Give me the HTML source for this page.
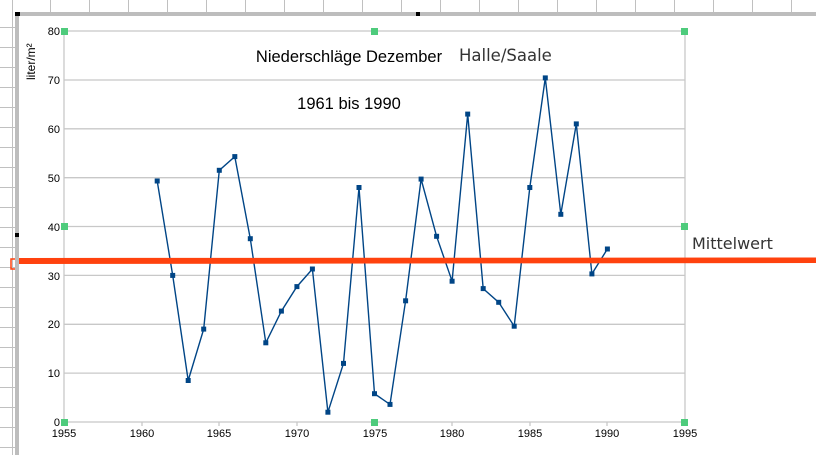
<!DOCTYPE html>
<html><head><meta charset="utf-8"><style>
html,body{margin:0;padding:0;background:#fff;width:816px;height:455px;overflow:hidden}
</style></head><body>
<svg width="816" height="455" xmlns="http://www.w3.org/2000/svg" font-family="Liberation Sans, sans-serif">
<rect width="816" height="455" fill="#fff"/>
<g stroke="#c0c0c0" stroke-width="1">
<line x1="12.5" y1="0" x2="12.5" y2="455"/>
<line x1="50.5" y1="0" x2="50.5" y2="13"/><line x1="89.5" y1="0" x2="89.5" y2="13"/><line x1="128.5" y1="0" x2="128.5" y2="13"/><line x1="167.5" y1="0" x2="167.5" y2="13"/><line x1="206.5" y1="0" x2="206.5" y2="13"/><line x1="245.5" y1="0" x2="245.5" y2="13"/><line x1="284.5" y1="0" x2="284.5" y2="13"/><line x1="323.5" y1="0" x2="323.5" y2="13"/><line x1="362.5" y1="0" x2="362.5" y2="13"/><line x1="401.5" y1="0" x2="401.5" y2="13"/><line x1="440.5" y1="0" x2="440.5" y2="13"/><line x1="479.5" y1="0" x2="479.5" y2="13"/><line x1="518.5" y1="0" x2="518.5" y2="13"/><line x1="557.5" y1="0" x2="557.5" y2="13"/><line x1="596.5" y1="0" x2="596.5" y2="13"/><line x1="635.5" y1="0" x2="635.5" y2="13"/><line x1="674.5" y1="0" x2="674.5" y2="13"/><line x1="713.5" y1="0" x2="713.5" y2="13"/><line x1="752.5" y1="0" x2="752.5" y2="13"/><line x1="791.5" y1="0" x2="791.5" y2="13"/>
</g>
<g stroke="#c0c0c0" stroke-width="1">
<line x1="0" y1="27.5" x2="15" y2="27.5"/><line x1="0" y1="47.5" x2="15" y2="47.5"/><line x1="0" y1="67.5" x2="15" y2="67.5"/><line x1="0" y1="87.5" x2="15" y2="87.5"/><line x1="0" y1="107.5" x2="15" y2="107.5"/><line x1="0" y1="127.5" x2="15" y2="127.5"/><line x1="0" y1="147.5" x2="15" y2="147.5"/><line x1="0" y1="167.5" x2="15" y2="167.5"/><line x1="0" y1="187.5" x2="15" y2="187.5"/><line x1="0" y1="207.5" x2="15" y2="207.5"/><line x1="0" y1="227.5" x2="15" y2="227.5"/><line x1="0" y1="247.5" x2="15" y2="247.5"/><line x1="0" y1="267.5" x2="15" y2="267.5"/><line x1="0" y1="287.5" x2="15" y2="287.5"/><line x1="0" y1="307.5" x2="15" y2="307.5"/><line x1="0" y1="327.5" x2="15" y2="327.5"/><line x1="0" y1="347.5" x2="15" y2="347.5"/><line x1="0" y1="367.5" x2="15" y2="367.5"/><line x1="0" y1="387.5" x2="15" y2="387.5"/><line x1="0" y1="407.5" x2="15" y2="407.5"/><line x1="0" y1="427.5" x2="15" y2="427.5"/><line x1="0" y1="447.5" x2="15" y2="447.5"/>
</g>
<rect x="15" y="12" width="801" height="4" fill="#bdbdbd"/>
<rect x="15" y="12" width="4" height="443" fill="#bdbdbd"/>
<rect x="15" y="12" width="5" height="4" fill="#000"/>
<rect x="416" y="12" width="4" height="4" fill="#000"/>
<rect x="15" y="233" width="4" height="4" fill="#000"/>
<g stroke="#c8c8c8" stroke-width="1.3">
<line x1="64" y1="31" x2="685" y2="31"/><line x1="64" y1="80" x2="685" y2="80"/><line x1="64" y1="128.8" x2="685" y2="128.8"/><line x1="64" y1="177.7" x2="685" y2="177.7"/><line x1="64" y1="226.5" x2="685" y2="226.5"/><line x1="64" y1="275.4" x2="685" y2="275.4"/><line x1="64" y1="324.3" x2="685" y2="324.3"/><line x1="64" y1="373.1" x2="685" y2="373.1"/><line x1="64" y1="422" x2="685" y2="422"/>
<line x1="64" y1="31" x2="64" y2="426"/><line x1="685" y1="31" x2="685" y2="426"/>
<line x1="142" y1="422" x2="142" y2="426"/><line x1="219" y1="422" x2="219" y2="426"/><line x1="297" y1="422" x2="297" y2="426"/><line x1="375" y1="422" x2="375" y2="426"/><line x1="452" y1="422" x2="452" y2="426"/><line x1="530" y1="422" x2="530" y2="426"/><line x1="607" y1="422" x2="607" y2="426"/>
</g>
<g font-size="11" fill="#000" text-anchor="end">
<text x="60" y="35">80</text><text x="60" y="84">70</text><text x="60" y="133">60</text><text x="60" y="182">50</text><text x="60" y="231">40</text><text x="60" y="280">30</text><text x="60" y="328">20</text><text x="60" y="377">10</text><text x="60" y="426">0</text>
</g>
<g font-size="11" fill="#000" text-anchor="middle">
<text x="64" y="437">1955</text><text x="142" y="437">1960</text><text x="219" y="437">1965</text><text x="297" y="437">1970</text><text x="375" y="437">1975</text><text x="452" y="437">1980</text><text x="530" y="437">1985</text><text x="607" y="437">1990</text><text x="685" y="437">1995</text>
</g>
<text transform="translate(35,80) rotate(-90)" font-size="12" fill="#000">liter/m²</text>
<text x="349" y="62" font-size="16.5" text-anchor="middle">Niederschläge Dezember</text>
<text x="349" y="109" font-size="16.5" text-anchor="middle">1961 bis 1990</text>
<text x="459" y="61" font-size="16.5" font-family="DejaVu Sans, sans-serif" fill="#333">Halle/Saale</text>
<text x="692" y="249" font-size="16" font-family="DejaVu Sans, sans-serif" fill="#333">Mittelwert</text>
<g fill="#4ecb7c">
<rect x="61" y="28" width="7" height="7"/><rect x="371" y="28" width="7" height="7"/><rect x="681" y="28" width="7" height="7"/>
<rect x="61" y="223" width="7" height="7"/><rect x="681" y="223" width="7" height="7"/>
<rect x="61" y="419" width="7" height="7"/><rect x="371" y="419" width="7" height="7"/><rect x="681" y="419" width="7" height="7"/>
</g>
<polyline fill="none" stroke="#004586" stroke-width="1.4" points="157.2,181.0 172.7,275.4 188.2,380.5 203.7,329.1 219.3,170.3 234.8,156.6 250.3,238.7 265.8,342.8 281.4,311.1 296.9,286.6 312.4,269.0 327.9,412.2 343.5,363.4 359.0,187.5 374.5,393.7 390.0,404.4 405.6,300.8 421.1,179.1 436.6,236.3 452.1,281.2 467.7,114.1 483.2,288.6 498.7,302.3 514.2,326.2 529.8,187.5 545.3,77.9 560.8,214.3 576.3,123.9 591.9,273.9 607.4,249.0"/>
<g fill="#004586">
<rect x="154.7" y="178.5" width="5" height="5"/><rect x="170.2" y="272.9" width="5" height="5"/><rect x="185.7" y="378" width="5" height="5"/><rect x="201.2" y="326.6" width="5" height="5"/><rect x="216.8" y="167.8" width="5" height="5"/><rect x="232.3" y="154.1" width="5" height="5"/><rect x="247.8" y="236.2" width="5" height="5"/><rect x="263.3" y="340.3" width="5" height="5"/><rect x="278.9" y="308.6" width="5" height="5"/><rect x="294.4" y="284.1" width="5" height="5"/><rect x="309.9" y="266.5" width="5" height="5"/><rect x="325.4" y="409.7" width="5" height="5"/><rect x="341" y="360.9" width="5" height="5"/><rect x="356.5" y="185" width="5" height="5"/><rect x="372" y="391.2" width="5" height="5"/><rect x="387.5" y="401.9" width="5" height="5"/><rect x="403.1" y="298.3" width="5" height="5"/><rect x="418.6" y="176.6" width="5" height="5"/><rect x="434.1" y="233.8" width="5" height="5"/><rect x="449.6" y="278.7" width="5" height="5"/><rect x="465.2" y="111.6" width="5" height="5"/><rect x="480.7" y="286.1" width="5" height="5"/><rect x="496.2" y="299.8" width="5" height="5"/><rect x="511.7" y="323.7" width="5" height="5"/><rect x="527.3" y="185" width="5" height="5"/><rect x="542.8" y="75.4" width="5" height="5"/><rect x="558.3" y="211.8" width="5" height="5"/><rect x="573.8" y="121.4" width="5" height="5"/><rect x="589.4" y="271.4" width="5" height="5"/><rect x="604.9" y="246.5" width="5" height="5"/>
</g>
<polygon points="19,258 816,257.5 816,263 19,264" fill="#ff420e"/>
<path d="M15,259 H11 V269 H15" fill="none" stroke="#ff420e" stroke-width="1.5"/>
</svg>
</body></html>
